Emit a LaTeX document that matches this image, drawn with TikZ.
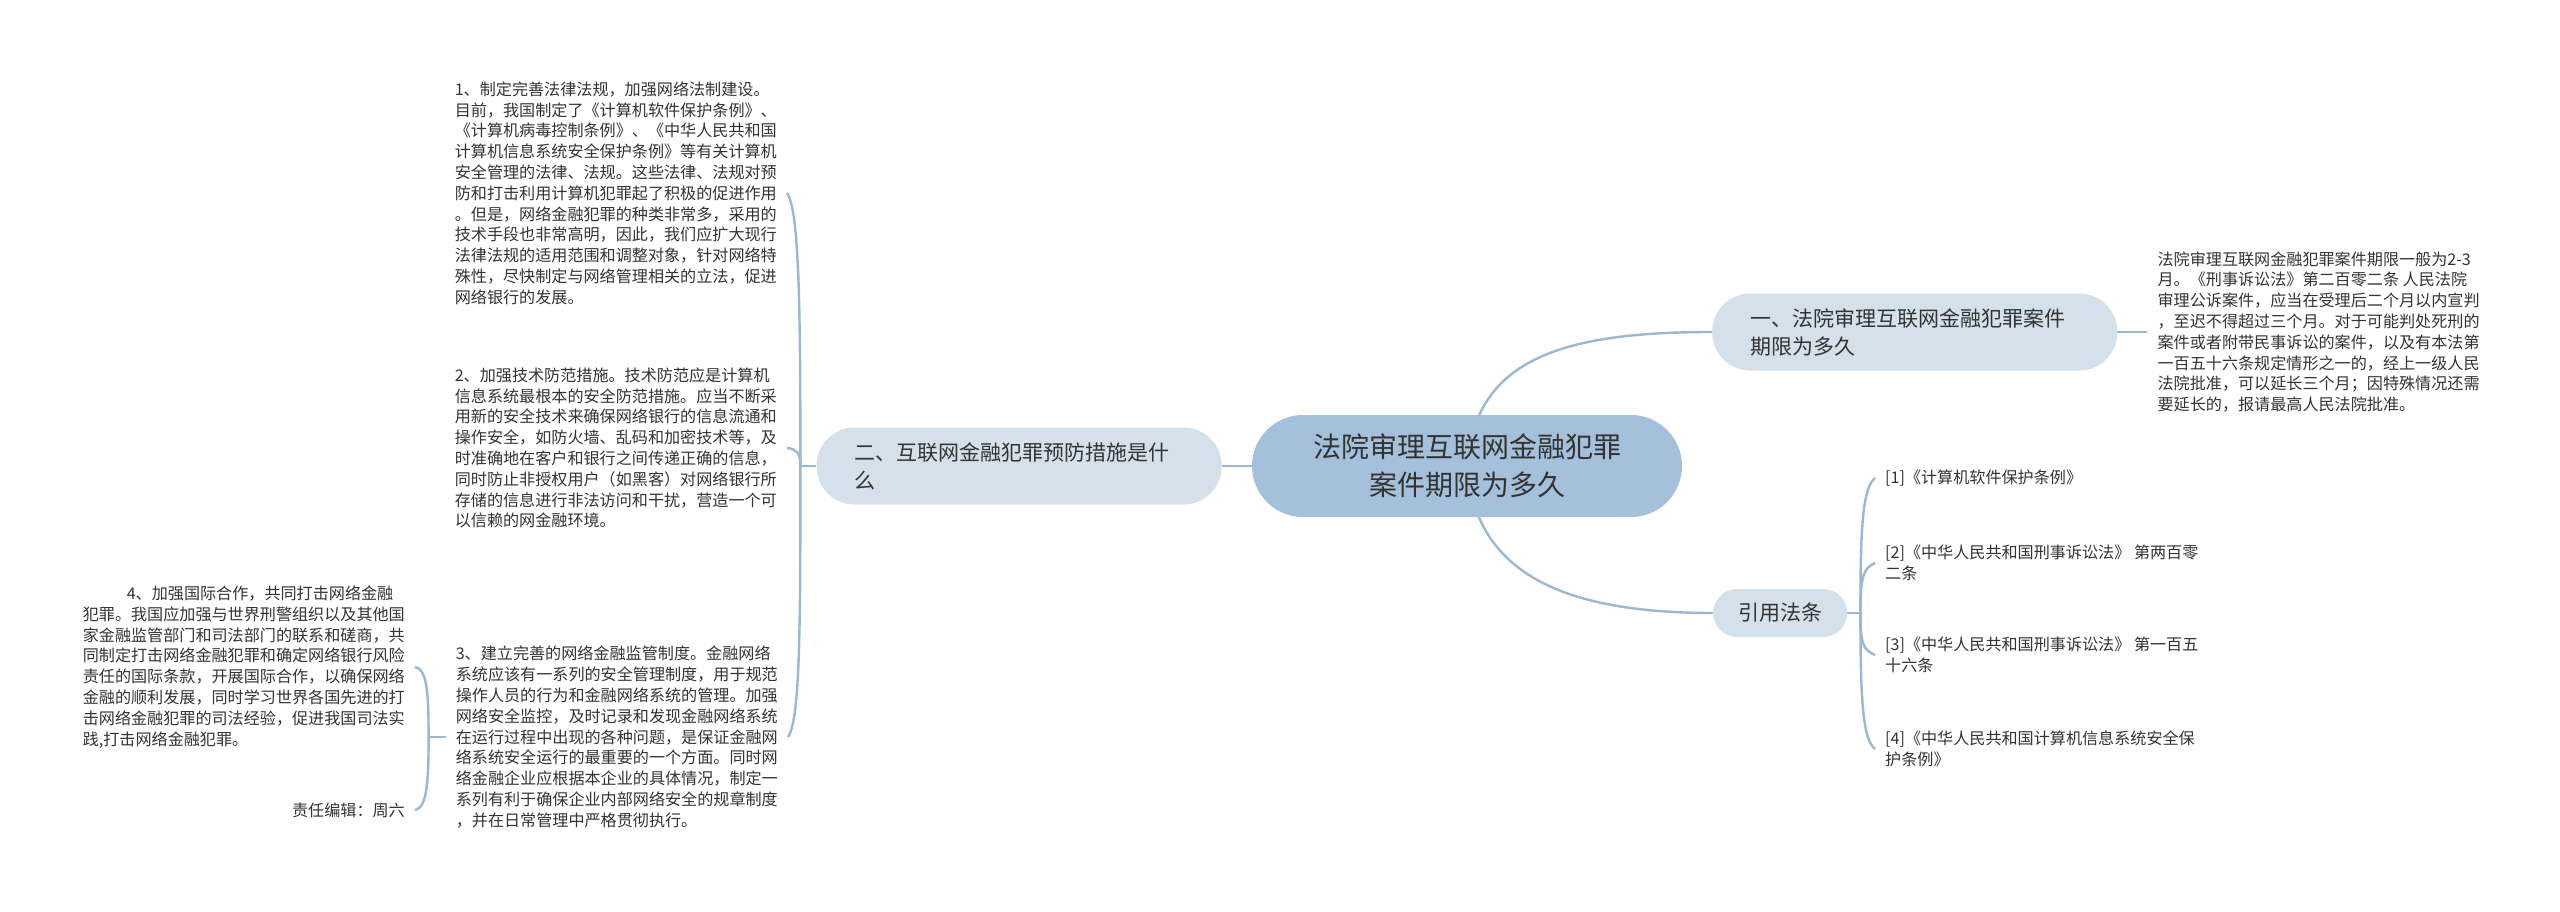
\documentclass[tikz,border=0pt]{standalone}
\usepackage{fontspec}
\setmainfont{Noto Sans CJK SC}
\usepackage{tikz}
\usetikzlibrary{positioning,backgrounds}
\definecolor{rootblue}{RGB}{164,192,218}
\definecolor{branchblue}{RGB}{212,224,234}
\definecolor{linkblue}{RGB}{155,184,210}
\definecolor{inkgray}{RGB}{51,51,51}

\begin{document}
\begin{tikzpicture}[
    x=1pt,
    y=-1pt,
    font=\fontsize{16.1}{20.8}\selectfont,
    text=inkgray,
    topic/.style={
		rectangle,
		rounded corners=51pt,
		fill=rootblue,
		align=center,
		minimum width=430pt,
		minimum height=102pt,
		font=\fontsize{28}{38}\selectfont
	},
	branch/.style={
		rectangle,
		rounded corners=38pt,
		fill=branchblue,
		align=left,
		text width=329pt,
		inner xsep=38pt,
		minimum height=77pt,
		font=\fontsize{21}{28}\selectfont
	},
	cite/.style={
		branch,
		rounded corners=24pt,
		text width=84pt,
		inner xsep=25pt,
		minimum height=48pt
	},
	leaf/.style={
		align=left,
		inner xsep=10pt,
		inner ysep=2pt
	},
	link/.style={
	  draw=linkblue,
	  line width=2.4pt
    }
  ]
\useasboundingbox (0,0) rectangle (2560,911);

% // The topic and its branches
 \node [topic] (root) at (1467,466) {法院审理互联网金融犯罪\\案件期限为多久};
 \node [branch, left=30pt of root] (prevent) {二、互联网金融犯罪预防措施是什\\么};
 \node [branch, anchor=west] (term) at (1712,332) {一、法院审理互联网金融犯罪案件\\期限为多久};
 \node [cite, anchor=west] (law) at (1713,613) {引用法条};

% // Term
 \node [leaf, right=30pt of term] (termtext)
 {%
  法院审理互联网金融犯罪案件期限一般为2-3\\
  月。《刑事诉讼法》第二百零二条 人民法院\\
  审理公诉案件，应当在受理后二个月以内宣判\\
  ，至迟不得超过三个月。对于可能判处死刑的\\
  案件或者附带民事诉讼的案件，以及有本法第\\
  一百五十六条规定情形之一的，经上一级人民\\
  法院批准，可以延长三个月；因特殊情况还需\\
  要延长的，报请最高人民法院批准。
 };

% // Measures
 \node [leaf, anchor=east] (measure1) at (787,193)
 {%
  1、制定完善法律法规，加强网络法制建设。\\
  目前，我国制定了《计算机软件保护条例》、\\
  《计算机病毒控制条例》、《中华人民共和国\\
  计算机信息系统安全保护条例》等有关计算机\\
  安全管理的法律、法规。这些法律、法规对预\\
  防和打击利用计算机犯罪起了积极的促进作用\\
  。但是，网络金融犯罪的种类非常多，采用的\\
  技术手段也非常高明，因此，我们应扩大现行\\
  法律法规的适用范围和调整对象，针对网络特\\
  殊性，尽快制定与网络管理相关的立法，促进\\
  网络银行的发展。
 };
 \node [leaf, anchor=east] (measure2) at (787,448)
 {%
  2、加强技术防范措施。技术防范应是计算机\\
  信息系统最根本的安全防范措施。应当不断采\\
  用新的安全技术来确保网络银行的信息流通和\\
  操作安全，如防火墙、乱码和加密技术等，及\\
  时准确地在客户和银行之间传递正确的信息，\\
  同时防止非授权用户（如黑客）对网络银行所\\
  存储的信息进行非法访问和干扰，营造一个可\\
  以信赖的网金融环境。
 };
 \node [leaf, anchor=east] (measure3) at (788,737)
 {%
  3、建立完善的网络金融监管制度。金融网络\\
  系统应该有一系列的安全管理制度，用于规范\\
  操作人员的行为和金融网络系统的管理。加强\\
  网络安全监控，及时记录和发现金融网络系统\\
  在运行过程中出现的各种问题，是保证金融网\\
  络系统安全运行的最重要的一个方面。同时网\\
  络金融企业应根据本企业的具体情况，制定一\\
  系列有利于确保企业内部网络安全的规章制度\\
  ，并在日常管理中严格贯彻执行。
 };
 \node [leaf, anchor=east] (measure4) at (415,667)
 {%
  \hspace*{44pt}4、加强国际合作，共同打击网络金融\\
  犯罪。我国应加强与世界刑警组织以及其他国\\
  家金融监管部门和司法部门的联系和磋商，共\\
  同制定打击网络金融犯罪和确定网络银行风险\\
  责任的国际条款，开展国际合作，以确保网络\\
  金融的顺利发展，同时学习世界各国先进的打\\
  击网络金融犯罪的司法经验，促进我国司法实\\
  践,打击网络金融犯罪。
 };
 \node [leaf, anchor=east] (editor) at (415,810) {责任编辑：周六};

% // Laws
 \node [leaf, anchor=west] (ref1) at (1875,478) {[1]《计算机软件保护条例》};
 \node [leaf, anchor=west] (ref2) at (1875,563) {[2]《中华人民共和国刑事诉讼法》 第两百零\\二条};
 \node [leaf, anchor=west] (ref3) at (1875,655) {[3]《中华人民共和国刑事诉讼法》 第一百五\\十六条};
 \node [leaf, anchor=west] (ref4) at (1875,749) {[4]《中华人民共和国计算机信息系统安全保\\护条例》};

 \coordinate [left=16pt of prevent.west] (pj);
 \coordinate [left=17pt of measure3.west] (mj);
 \coordinate [right=13pt of law.east] (lj);

\begin{scope}[on background layer]
 \fill [white] (0,0) rectangle (2560,911);
 \draw [link] (root.west) -- (prevent.east);
 \draw [link] (root.center) .. controls +(8,-106) and +(-152,0) .. (term.west);
 \draw [link] (root.center) .. controls +(8,106) and +(-152,0) .. (law.west);
 \draw [link] (term.east) -- (termtext.west);
% \draw [link] (prevent) -- (measure2);
 \draw [link] (prevent.west) -- (pj);
 \draw [link] (pj) .. controls +(0,-165) and +(12,17) .. (measure1.east);
 \draw [link] (pj) .. controls +(0,-14) and +(9,1) .. (measure2.east);
 \draw [link] (pj) .. controls +(0,165) and +(12,-17) .. (measure3.east);
 \draw [link] (measure3.west) -- (mj);
 \draw [link] (mj) .. controls +(0,-45) and +(12,2) .. (measure4.east);
 \draw [link] (mj) .. controls +(0,45) and +(12,-2) .. (editor.east);
 \draw [link] (law.east) -- (lj);
 \draw [link] (lj) .. controls +(0,-90) and +(-12,10) .. (ref1.west);
 \draw [link] (lj) .. controls +(0,-35) and +(-12,5) .. (ref2.west);
 \draw [link] (lj) .. controls +(0,30) and +(-12,-5) .. (ref3.west);
 \draw [link] (lj) .. controls +(0,90) and +(-12,-10) .. (ref4.west);
\end{scope}

\end{tikzpicture}
\end{document}
